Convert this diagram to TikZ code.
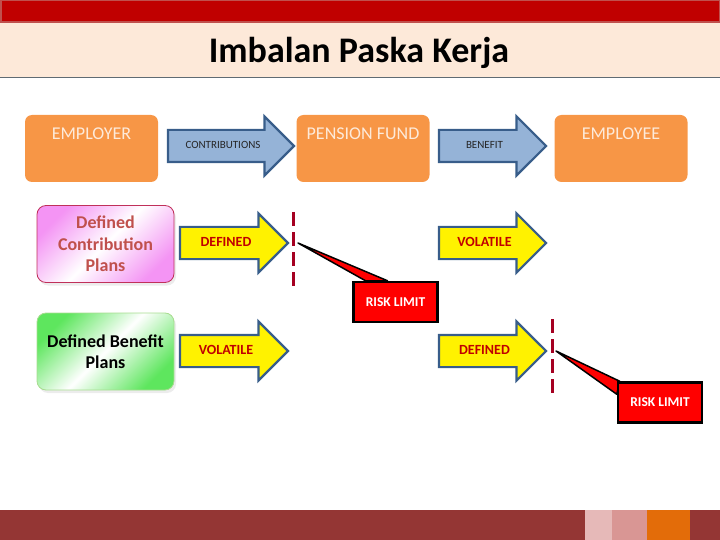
\documentclass[tikz,border=0pt]{standalone}
\usepackage{fontspec}
\setmainfont{Carlito}
\usepackage{tikz}
\usetikzlibrary{shapes.arrows, shadows, backgrounds}
\definecolor{slred}{HTML}{C00000}
\definecolor{slrose}{HTML}{C0504D}
\definecolor{slpeach}{HTML}{FDE9D9}
\definecolor{slrule}{HTML}{5F6B73}
\definecolor{slorange}{HTML}{F79646}
\definecolor{slcream}{HTML}{FDEADA}
\definecolor{slblue}{HTML}{95B3D7}
\definecolor{slnavy}{HTML}{385D8A}
\definecolor{slcut}{HTML}{A50021}
\definecolor{slpink}{HTML}{F070F0}
\definecolor{slpinkline}{HTML}{C0305A}
\definecolor{slgreen}{HTML}{5EE65E}
\definecolor{slgreenline}{HTML}{A8DC90}
\definecolor{slmaroon}{HTML}{943634}
\definecolor{slblush}{HTML}{E6B9B8}
\definecolor{sldust}{HTML}{D99694}
\definecolor{slamber}{HTML}{E36C09}

\begin{document}
\begin{tikzpicture}[x=1pt, y=-1pt,
  party/.style={fill=slorange, rounded corners=7pt, minimum width=133pt, minimum height=67pt, inner ysep=8pt, text height=17pt, text depth=34pt, text=slcream, font=\fontsize{18}{21}\selectfont},
  flow/.style={single arrow, single arrow head extend=13.5pt, single arrow head indent=0pt, draw=slnavy, line width=2.2pt, inner ysep=10pt, inner xsep=2pt, text height=8pt, text depth=2pt},
  money/.style={flow, fill=slblue, font=\fontsize{11}{13}\selectfont, text=black!85},
  risk/.style={flow, fill=yellow, font=\bfseries\fontsize{14}{16}\selectfont, text=slred},
  plan/.style={rounded corners=9pt, minimum width=137pt, minimum height=77pt, align=center, line width=.8pt, font=\bfseries\fontsize{18}{21.5}\selectfont, drop shadow={shadow xshift=2pt, shadow yshift=-3pt, opacity=.15}},
  cut/.style={draw=slcut, line width=3pt, dash pattern=on 14pt off 6pt},
  limit/.style={fill=red, draw=black, line width=2.5pt, minimum width=84pt, minimum height=40pt, text=white, font=\bfseries\fontsize{13.5}{15}\selectfont},
  tail/.style={fill=red, draw=black, line width=1.5pt, line join=round}
]
  \useasboundingbox (0,0) rectangle (720,540);
  % header and footer bands
  \fill[slpeach] (0,22) rectangle (720,77);
  \draw[slrule, line width=1pt] (0,77.5) -- (720,77.5);
  \draw[fill=slred, draw=slrose, line width=1.5pt] (0.75,0.75) rectangle (719.25,22);
  \node[font=\bfseries\fontsize{36}{40}\selectfont] (title) at (359,53) {Imbalan Paska Kerja};
  \fill[slmaroon] (0,510) rectangle (720,540);
  \fill[slblush] (585,510) rectangle (612,540);
  \fill[sldust] (612,510) rectangle (647,540);
  \fill[slamber] (647,510) rectangle (690,540);

  % parties
  \node[party] (employer) at (91.5,148.5) {EMPLOYER};
  \node[party] (fund) at (363,148.5) {PENSION FUND};
  \node[party] (employee) at (621,148.5) {EMPLOYEE};
  \node[money, minimum height=126pt] (contrib) at (223,146) {CONTRIBUTIONS};
  \node[money, minimum height=107pt] (benefit) at (484.5,146) {BENEFIT};

  % plans
  \node[plan, draw=slpinkline, left color=slpink!75, right color=slpink!75, middle color=white, shading angle=45, text=slrose] (dcplan) at (105.5,244) {Defined\\Contribution\\Plans};
  \node[plan, draw=slgreenline, left color=slgreen, right color=slgreen, middle color=white, shading angle=45, text=black] (dbplan) at (105.5,351.5) {Defined Benefit\\Plans};

  \node[risk, minimum height=108pt] (dcin) at (226,243) {DEFINED};
  \node[risk, minimum height=107pt] (dcout) at (484.5,243) {VOLATILE};
  \node[risk, minimum height=108pt] (dbin) at (226,351) {VOLATILE};
  \node[risk, minimum height=107pt] (dbout) at (484.5,351) {DEFINED};

  % risk limits
  \coordinate (cutAtop) at (293,212);
  \coordinate (cutAbot) at (293,289);
  \coordinate (cutBtop) at (552,319);
  \coordinate (cutBbot) at (552,397);
  \draw[cut] (cutAtop) -- (cutAbot);
  \draw[cut] (cutBtop) -- (cutBbot);

  \node[limit] (limA) at (395.5,302) {RISK LIMIT};
  \node[limit] (limB) at (660,402.5) {RISK LIMIT};
  \coordinate (tipA) at (298,243);
  \coordinate (tipB) at (556,351);
  \begin{scope}[on background layer]
    \draw[tail] (tipA) -- ([xshift=-30pt]limA.north) -- ([xshift=-8pt]limA.north) -- cycle;
    \draw[tail] (tipB) -- ([xshift=3pt]limB.north west) -- ([yshift=-13pt]limB.north west) -- cycle;
  \end{scope}
\end{tikzpicture}
\end{document}
